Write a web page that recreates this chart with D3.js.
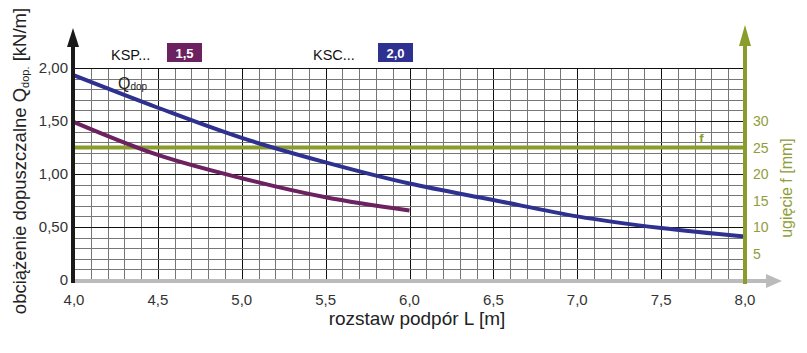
<!DOCTYPE html>
<html>
<head>
<meta charset="utf-8">
<title>Qdop chart</title>
<script src="https://d3js.org/d3.v7.min.js"></script>
<style>
  body { margin: 0; background: #fff; }
  svg { font-family: "Liberation Sans", Arial, sans-serif; }
</style>
</head>
<body>
<script>
// data
var spanKSC = [4.0, 4.5, 5.0, 5.5, 6.0, 6.5, 7.0, 7.5, 8.0];
var qKSC    = [1.93, 1.625, 1.34, 1.11, 0.91, 0.755, 0.60, 0.49, 0.41];
var spanKSP = [4.0, 4.5, 5.0, 5.5, 6.0];
var qKSP    = [1.49, 1.18, 0.96, 0.78, 0.655];
var xTicks = [4.0, 4.5, 5.0, 5.5, 6.0, 6.5, 7.0, 7.5, 8.0];
var yTicks = [0, 0.5, 1.0, 1.5, 2.0];
var fTicks = [5, 10, 15, 20, 25, 30];
var fLimit = 25;

var W = 807, H = 353;
var blue = "#2e3190", purple = "#6c2160", green = "#8a9c2c";

var svg = d3.select("body").append("svg")
    .attr("width", W).attr("height", H);

var x = d3.scaleLinear().domain([4, 8]).range([74, 745]);
var y = d3.scaleLinear().domain([0, 2]).range([280, 68]);
var yf = d3.scaleLinear().domain([0, 40]).range([280, 68]);

var comma = function(fmt) { return function(d) { return d3.format(fmt)(d).replace(".", ","); }; };

// grid
var grid = svg.append("g");
var minorX = d3.range(41).map(function(i) { return 4 + i * 0.1; });
var minorY = d3.range(21).map(function(i) { return i * 0.1; });
grid.selectAll("line.vx").data(minorX).enter().append("line")
    .attr("x1", function(d) { return Math.round(x(d)) + 0.5; })
    .attr("x2", function(d) { return Math.round(x(d)) + 0.5; })
    .attr("y1", y(2)).attr("y2", y(0))
    .attr("stroke", function(d, i) { return i % 5 === 0 ? "#111" : "#777"; })
    .attr("stroke-width", 1);
grid.selectAll("line.hy").data(minorY).enter().append("line")
    .attr("y1", function(d) { return Math.round(y(d)) + 0.5; })
    .attr("y2", function(d) { return Math.round(y(d)) + 0.5; })
    .attr("x1", x(4)).attr("x2", x(8))
    .attr("stroke", function(d, i) { return i % 5 === 0 ? "#111" : "#777"; })
    .attr("stroke-width", 1);

// f limit line
svg.append("line")
    .attr("x1", x(4)).attr("x2", x(8))
    .attr("y1", yf(fLimit)).attr("y2", yf(fLimit))
    .attr("stroke", green).attr("stroke-width", 4);
svg.append("text")
    .attr("x", x(7.74)).attr("y", yf(fLimit) - 5)
    .attr("fill", green).attr("font-size", 13).attr("font-weight", "bold")
    .attr("text-anchor", "middle").text("f");

// curves
var line = d3.line()
    .x(function(d) { return x(d[0]); })
    .y(function(d) { return y(d[1]); })
    .curve(d3.curveMonotoneX);
svg.append("path")
    .datum(d3.zip(spanKSP, qKSP))
    .attr("d", line).attr("fill", "none")
    .attr("stroke", purple).attr("stroke-width", 4);
svg.append("path")
    .datum(d3.zip(spanKSC, qKSC))
    .attr("d", line).attr("fill", "none")
    .attr("stroke", blue).attr("stroke-width", 4);

// x axis (grey with arrow)
svg.append("line")
    .attr("x1", 72).attr("x2", 768).attr("y1", 281).attr("y2", 281)
    .attr("stroke", "#bbb").attr("stroke-width", 4);
svg.append("path")
    .attr("d", "M766,274 L782,281 L766,288 Z").attr("fill", "#bbb");

// left axis (black with arrow)
svg.append("line")
    .attr("x1", 73).attr("x2", 73).attr("y1", 283).attr("y2", 44)
    .attr("stroke", "#1a1a1a").attr("stroke-width", 4);
svg.append("path")
    .attr("d", "M67,47 L73,28 L79,47 Z").attr("fill", "#1a1a1a");

// right axis (green with arrow)
svg.append("line")
    .attr("x1", 745).attr("x2", 745).attr("y1", 284).attr("y2", 42)
    .attr("stroke", green).attr("stroke-width", 4);
svg.append("path")
    .attr("d", "M739,46 L745,25 L751,46 Z").attr("fill", green);

// tick labels
svg.append("g").selectAll("text").data(xTicks).enter().append("text")
    .attr("x", function(d) { return x(d); }).attr("y", 305)
    .attr("text-anchor", "middle").attr("font-size", 15).attr("fill", "#333")
    .text(comma(".1f"));
svg.append("g").selectAll("text").data(yTicks).enter().append("text")
    .attr("x", 68).attr("y", function(d) { return y(d); }).attr("dy", "0.36em")
    .attr("text-anchor", "end").attr("font-size", 15).attr("fill", "#333")
    .text(function(d) { return d === 0 ? "0" : comma(".2f")(d); });
svg.append("g").selectAll("text").data(fTicks).enter().append("text")
    .attr("x", 753).attr("y", function(d) { return yf(d); }).attr("dy", "0.36em")
    .attr("text-anchor", "start").attr("font-size", 14).attr("fill", "#8f9d3a")
    .text(function(d) { return d; });

// axis titles
svg.append("text")
    .attr("x", 417).attr("y", 325).attr("text-anchor", "middle")
    .attr("font-size", 19).attr("fill", "#222")
    .text("rozstaw podpór L [m]");
var yt = svg.append("text")
    .attr("transform", "translate(26,161) rotate(-90)")
    .attr("text-anchor", "middle").attr("font-size", 18.5).attr("fill", "#222");
yt.append("tspan").text("obciążenie dopuszczalne Q");
yt.append("tspan").attr("font-size", 11).attr("dy", 3).text("dop.");
yt.append("tspan").attr("dy", -3).text(" [kN/m]");
svg.append("text")
    .attr("transform", "translate(792,188) rotate(-90)")
    .attr("text-anchor", "middle").attr("font-size", 16).attr("fill", "#8f9d3a")
    .text("ugięcie f [mm]");

// Qdop label
var ql = svg.append("text").attr("x", 118).attr("y", 89)
    .attr("font-size", 16).attr("fill", "#222");
ql.append("tspan").text("Q");
ql.append("tspan").attr("font-size", 10).attr("dy", 1).text("dop");

// series labels
var seriesNames = ["KSP...", "KSC..."];
var seriesThick = ["1,5", "2,0"];
var seriesColor = [purple, blue];
var labelX = [111, 313];
var boxX = [167, 378];
seriesNames.forEach(function(n, i) {
  svg.append("text").attr("x", labelX[i]).attr("y", 60)
      .attr("font-size", 14.5).attr("fill", "#111").text(n);
  svg.append("rect").attr("x", boxX[i]).attr("y", 43)
      .attr("width", 35).attr("height", 19).attr("fill", seriesColor[i]);
  svg.append("text").attr("x", boxX[i] + 17.5).attr("y", 57.5)
      .attr("text-anchor", "middle").attr("font-size", 13).attr("font-weight", "bold")
      .attr("fill", "#fff").text(seriesThick[i]);
});
</script>
</body>
</html>
